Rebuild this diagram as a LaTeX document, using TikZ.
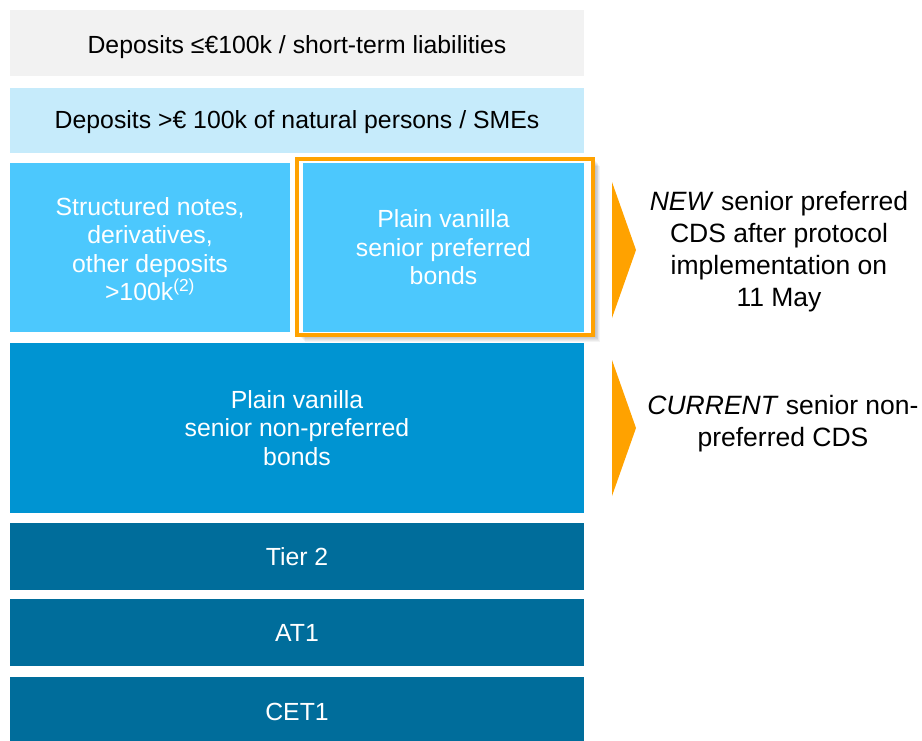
\documentclass[tikz,border=0pt]{standalone}
\usepackage{fontspec}
\setmainfont{Liberation Sans}
\definecolor{cgray}{HTML}{F2F2F2}
\definecolor{clight}{HTML}{C6EBFB}
\definecolor{cmid}{HTML}{4CC8FD}
\definecolor{cblue}{HTML}{0094D2}
\definecolor{cdark}{HTML}{006D9B}
\definecolor{corange}{HTML}{FFA200}
\newcommand{\lowertext}[2]{\raisebox{-#1}[\height][\depth]{#2}}
\tikzset{
  layer/.style={rectangle, inner sep=0pt, outer sep=0pt, align=center,
    font=\fontsize{24.8}{28.5}\selectfont, minimum width=574pt},
  whitetxt/.style={text=white},
  sidetxt/.style={align=center, inner sep=0pt, font=\fontsize{26.5}{32}\selectfont, text=black},
  chevron/.style={fill=corange, draw=none}
}
\begin{document}
\begin{tikzpicture}[x=1pt,y=-1pt]
\useasboundingbox (0,0) rectangle (922,740);
\begin{scope}
\clip (0,0) rectangle (922,740);
% layers
\node[layer, fill=cgray, minimum height=66pt] (dep1) at (297,43) {\lowertext{4pt}{Deposits ≤€100k / short-term liabilities}};
\node[layer, fill=clight, minimum height=65pt] (dep2) at (297,120.5) {\lowertext{2pt}{Deposits >€ 100k of natural persons / SMEs}};
\node[layer, whitetxt, fill=cmid, minimum width=280pt, minimum height=169pt] (struct) at (150,247.5)
  {\lowertext{1.5pt}{\parbox{270pt}{\centering Structured notes,\\derivatives,\\other deposits\\>100k\textsuperscript{(2)}}}};
% shadow of highlighted frame
\foreach \i in {1,...,8}{
  \fill[black, opacity=0.045] (297.3+\i*0.9,158.7+\i*0.9) rectangle (593+\i*0.9,334.7+\i*0.9);
}
\fill[white] (295.3,156.7) rectangle (595,336.7);
\node[layer, whitetxt, fill=cmid, minimum width=281pt, minimum height=169pt] (pref) at (443.5,247.5)
  {Plain vanilla\\senior preferred\\bonds};
\node[draw=corange, line width=4pt, inner sep=0pt, minimum width=295.7pt, minimum height=176pt] (frame) at (445.15,246.7) {};
\node[layer, whitetxt, fill=cblue, minimum height=170pt] (snp) at (297,428)
  {Plain vanilla\\senior non-preferred\\bonds};
\node[layer, whitetxt, fill=cdark, minimum height=67pt] (t2) at (297,556.5) {Tier 2};
\node[layer, whitetxt, fill=cdark, minimum height=67pt] (at1) at (297,632.5) {AT1};
\node[layer, whitetxt, fill=cdark, minimum height=70pt] (cet1) at (297,712) {CET1};
% chevrons
\coordinate (c1a) at (612,182);
\coordinate (c1b) at (636,250);
\coordinate (c1c) at (612,318);
\fill[chevron] (c1a) -- (c1b) -- (c1c) -- cycle;
\coordinate (c2a) at (612,360);
\coordinate (c2b) at (636,428);
\coordinate (c2c) at (612,496);
\fill[chevron] (c2a) -- (c2b) -- (c2c) -- cycle;
% side texts
\node[sidetxt] (newtxt) at (779,252) {\textit{NEW} senior preferred\\CDS after protocol\\implementation on\\11 May};
\node[sidetxt] (curtxt) at (783,424) {\textit{CURRENT} senior non-\\preferred CDS};
\end{scope}
\end{tikzpicture}
\end{document}
